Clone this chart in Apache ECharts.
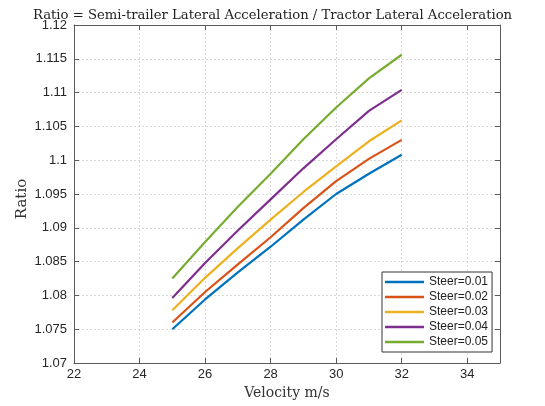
<!DOCTYPE html>
<html>
<head>
<meta charset="utf-8">
<script src="https://cdn.jsdelivr.net/npm/echarts@6/dist/echarts.min.js"></script>
<style>html,body{margin:0;padding:0;background:#fff}#c{width:545px;height:406px}</style>
</head>
<body>
<div id="c"></div>
<script>
const velocity = [25, 26, 27, 28, 29, 30, 31, 32];
const steer001 = [1.0750, 1.0794, 1.0834, 1.0872, 1.0912, 1.0950, 1.0980, 1.1008];
const steer002 = [1.0760, 1.0805, 1.0846, 1.0886, 1.0929, 1.0969, 1.1002, 1.1030];
const steer003 = [1.0778, 1.0826, 1.0870, 1.0912, 1.0953, 1.0991, 1.1028, 1.1059];
const steer004 = [1.0796, 1.0848, 1.0896, 1.0942, 1.0988, 1.1031, 1.1073, 1.1104];
const steer005 = [1.0825, 1.0879, 1.0931, 1.0980, 1.1031, 1.1078, 1.1121, 1.1156];
const seriesNames = ['Steer=0.01', 'Steer=0.02', 'Steer=0.03', 'Steer=0.04', 'Steer=0.05'];
const seriesValues = [steer001, steer002, steer003, steer004, steer005];
const colors = ['#0072BD', '#D95319', '#EDB120', '#7E2F8E', '#77AC30'];
const xTicks = {min: 22, max: 35, interval: 2};
const yTicks = {min: 1.07, max: 1.12, interval: 0.005};

const chart = echarts.init(document.getElementById('c'), null, {renderer: 'canvas'});
const axisColor = '#5a5a5a';
const labelColor = '#262626';
const sans = 'Liberation Sans';
const serif = 'DejaVu Serif';
const grid = {left: 74, right: 45, top: 25, bottom: 43};

function xAx(pos, show) {
  return {
    type: 'value', position: pos, min: xTicks.min, max: xTicks.max, interval: xTicks.interval,
    name: show ? 'Velocity m/s' : '', nameLocation: 'middle', nameGap: 21,
    nameTextStyle: {fontFamily: serif, fontSize: 14, color: '#333'},
    axisLine: {show: true, onZero: false, lineStyle: {color: axisColor, width: 1}},
    axisTick: {show: true, inside: true, length: 5, lineStyle: {color: axisColor}},
    axisLabel: {show: show, showMaxLabel: false, margin: 5, fontFamily: sans, fontSize: 13, color: labelColor},
    splitLine: {show: show, lineStyle: {color: '#dadada', type: [2, 2], width: 1}}
  };
}
function yAx(pos, show) {
  return {
    type: 'value', position: pos, min: yTicks.min, max: yTicks.max, interval: yTicks.interval,
    name: show ? 'Ratio' : '', nameLocation: 'middle', nameGap: 44, nameMoveOverlap: false,
    nameTextStyle: {fontFamily: serif, fontSize: 15, color: '#333', padding: [0, 10, 0, 0]},
    axisLine: {show: true, onZero: false, lineStyle: {color: axisColor, width: 1}},
    axisTick: {show: true, inside: true, length: 5, lineStyle: {color: axisColor}},
    axisLabel: {show: show, margin: 7, fontFamily: sans, fontSize: 13, color: labelColor,
      formatter: v => String(+v.toFixed(3))},
    splitLine: {show: show, lineStyle: {color: '#dadada', type: [2, 2], width: 1}}
  };
}

chart.setOption({
  animation: false,
  backgroundColor: '#fff',
  title: {
    text: 'Ratio = Semi-trailer Lateral Acceleration / Tractor Lateral Acceleration',
    left: 'center', top: 4,
    textStyle: {fontFamily: serif, fontSize: 13.2, fontWeight: 'normal', color: '#222'}
  },
  grid: grid,
  xAxis: [xAx('bottom', true), xAx('top', false)],
  yAxis: [yAx('left', true), yAx('right', false)],
  legend: {
    orient: 'vertical', left: 382, top: 272,
    backgroundColor: '#fff', borderColor: '#333', borderWidth: 1, padding: [3, 4, 3, 3],
    itemWidth: 39, itemHeight: 2.5, itemGap: 1, icon: 'rect',
    textStyle: {fontFamily: sans, fontSize: 12, color: '#222', lineHeight: 14},
    data: seriesNames
  },
  series: seriesNames.map((n, i) => ({
    name: n, type: 'line', showSymbol: false, symbol: 'none',
    color: colors[i],
    lineStyle: {width: 2.2, color: colors[i]},
    data: velocity.map((v, j) => [v, seriesValues[i][j]])
  }))
});
</script>
</body>
</html>
